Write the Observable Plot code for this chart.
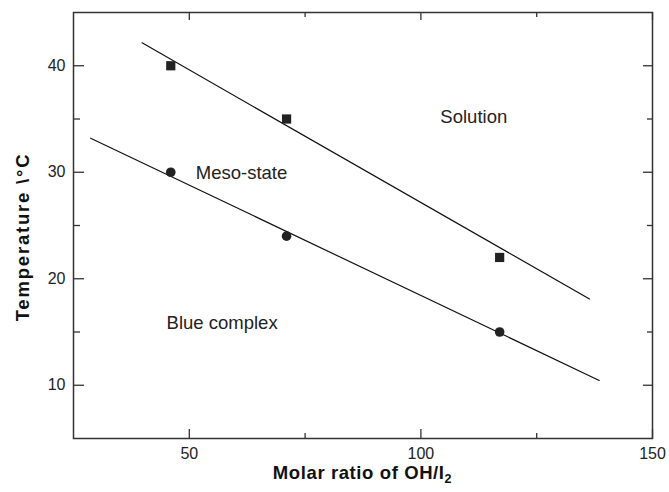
<!DOCTYPE html>
<html>
<head>
<meta charset="utf-8">
<script src="https://cdn.jsdelivr.net/npm/d3@7"></script>
<script src="https://cdn.jsdelivr.net/npm/@observablehq/plot@0.6"></script>
<style>
  html, body { margin: 0; padding: 0; background: #fff; }
  svg { font-family: "Liberation Sans", Arial, sans-serif; }
</style>
</head>
<body>
<div id="chart"></div>
<script>
// Data
const solutionX = [46, 71, 117];
const solutionY = [40, 35, 22];
const mesoX = [46, 71, 117];
const mesoY = [30, 24, 15];
// fitted boundary lines (endpoints)
const upperLineX = [39.8, 136.4];
const upperLineY = [42.15, 18.1];
const lowerLineX = [28.7, 138.5];
const lowerLineY = [33.2, 10.45];
// region labels
const regionNames = ["Solution", "Meso-state", "Blue complex"];
const regionX = [104.2, 51.4, 45.1];
const regionY = [35.15, 29.9, 15.8];
// ticks
const xMajor = [50, 100, 150];
const xMinor = [75, 125];
const yMajor = [10, 20, 30, 40];
const yMinor = [15, 25, 35];
const xLabel = "Molar ratio of OH/I";
const xLabelSub = "2";
const yLabel = "Temperature \\°C";

const W = 669, H = 492;
const mL = 73, mR = 17, mT = 12, mB = 54;
const iw = W - mL - mR, ih = H - mT - mB;

const sq = solutionX.map((x, i) => ({x, y: solutionY[i]}));
const ci = mesoX.map((x, i) => ({x, y: mesoY[i]}));
const up = upperLineX.map((x, i) => ({x, y: upperLineY[i]}));
const lo = lowerLineX.map((x, i) => ({x, y: lowerLineY[i]}));
const reg = regionNames.map((t, i) => ({t, x: regionX[i], y: regionY[i]}));

const frameColor = "#333";
const svg = Plot.plot({
  width: W, height: H,
  marginLeft: mL, marginRight: mR, marginTop: mT, marginBottom: mB,
  style: {fontFamily: "Liberation Sans, Arial, sans-serif", background: "#fff"},
  x: {domain: [25, 150]},
  y: {domain: [5, 45]},
  marks: [
    Plot.axisX(xMajor, {tickSize: 0, tickPadding: 9, fontSize: 16, fill: "#222", label: null}),
    Plot.axisY(yMajor, {tickSize: 0, tickPadding: 8, fontSize: 16, fill: "#222", label: null}),
    // inward ticks: bottom
    Plot.tickX(xMajor, {x: d => d, insetTop: ih - 9, stroke: frameColor, strokeWidth: 1.3}),
    Plot.tickX(xMinor, {x: d => d, insetTop: ih - 5, stroke: frameColor, strokeWidth: 1.3}),
    // top
    Plot.tickX(xMajor, {x: d => d, insetBottom: ih - 8, stroke: frameColor, strokeWidth: 1.3}),
    Plot.tickX(xMinor, {x: d => d, insetBottom: ih - 5, stroke: frameColor, strokeWidth: 1.3}),
    // left
    Plot.tickY(yMajor, {y: d => d, insetRight: iw - 11, stroke: frameColor, strokeWidth: 1.3}),
    Plot.tickY(yMinor, {y: d => d, insetRight: iw - 7, stroke: frameColor, strokeWidth: 1.3}),
    // right
    Plot.tickY(yMajor, {y: d => d, insetLeft: iw - 9, stroke: frameColor, strokeWidth: 1.3}),
    Plot.tickY(yMinor, {y: d => d, insetLeft: iw - 5, stroke: frameColor, strokeWidth: 1.3}),
    Plot.frame({stroke: frameColor, strokeWidth: 1.5}),
    Plot.line(up, {x: "x", y: "y", stroke: "#111", strokeWidth: 1.2}),
    Plot.line(lo, {x: "x", y: "y", stroke: "#111", strokeWidth: 1.2}),
    Plot.dot(sq, {x: "x", y: "y", symbol: "square", r: 5.2, fill: "#222", stroke: "none"}),
    Plot.dot(ci, {x: "x", y: "y", symbol: "circle", r: 4.8, fill: "#222", stroke: "none"}),
    Plot.text(reg, {x: "x", y: "y", text: "t", textAnchor: "start", fontSize: 18.5, fill: "#222"})
  ]
});

const s = d3.select(svg);
const xl = s.append("text")
  .attr("x", mL + iw / 2).attr("y", 479)
  .attr("text-anchor", "middle")
  .attr("font-weight", "bold").attr("font-size", 18.5).attr("letter-spacing", 0.6)
  .attr("fill", "#111");
xl.append("tspan").text(xLabel);
xl.append("tspan").attr("font-size", 12.5).attr("dy", 4).text(xLabelSub);

s.append("text")
  .attr("transform", `translate(29,${237}) rotate(-90)`)
  .attr("text-anchor", "middle")
  .attr("font-weight", "bold").attr("font-size", 18.5).attr("letter-spacing", 1.8)
  .attr("fill", "#111")
  .text(yLabel);

document.getElementById("chart").appendChild(svg);
</script>
</body>
</html>
